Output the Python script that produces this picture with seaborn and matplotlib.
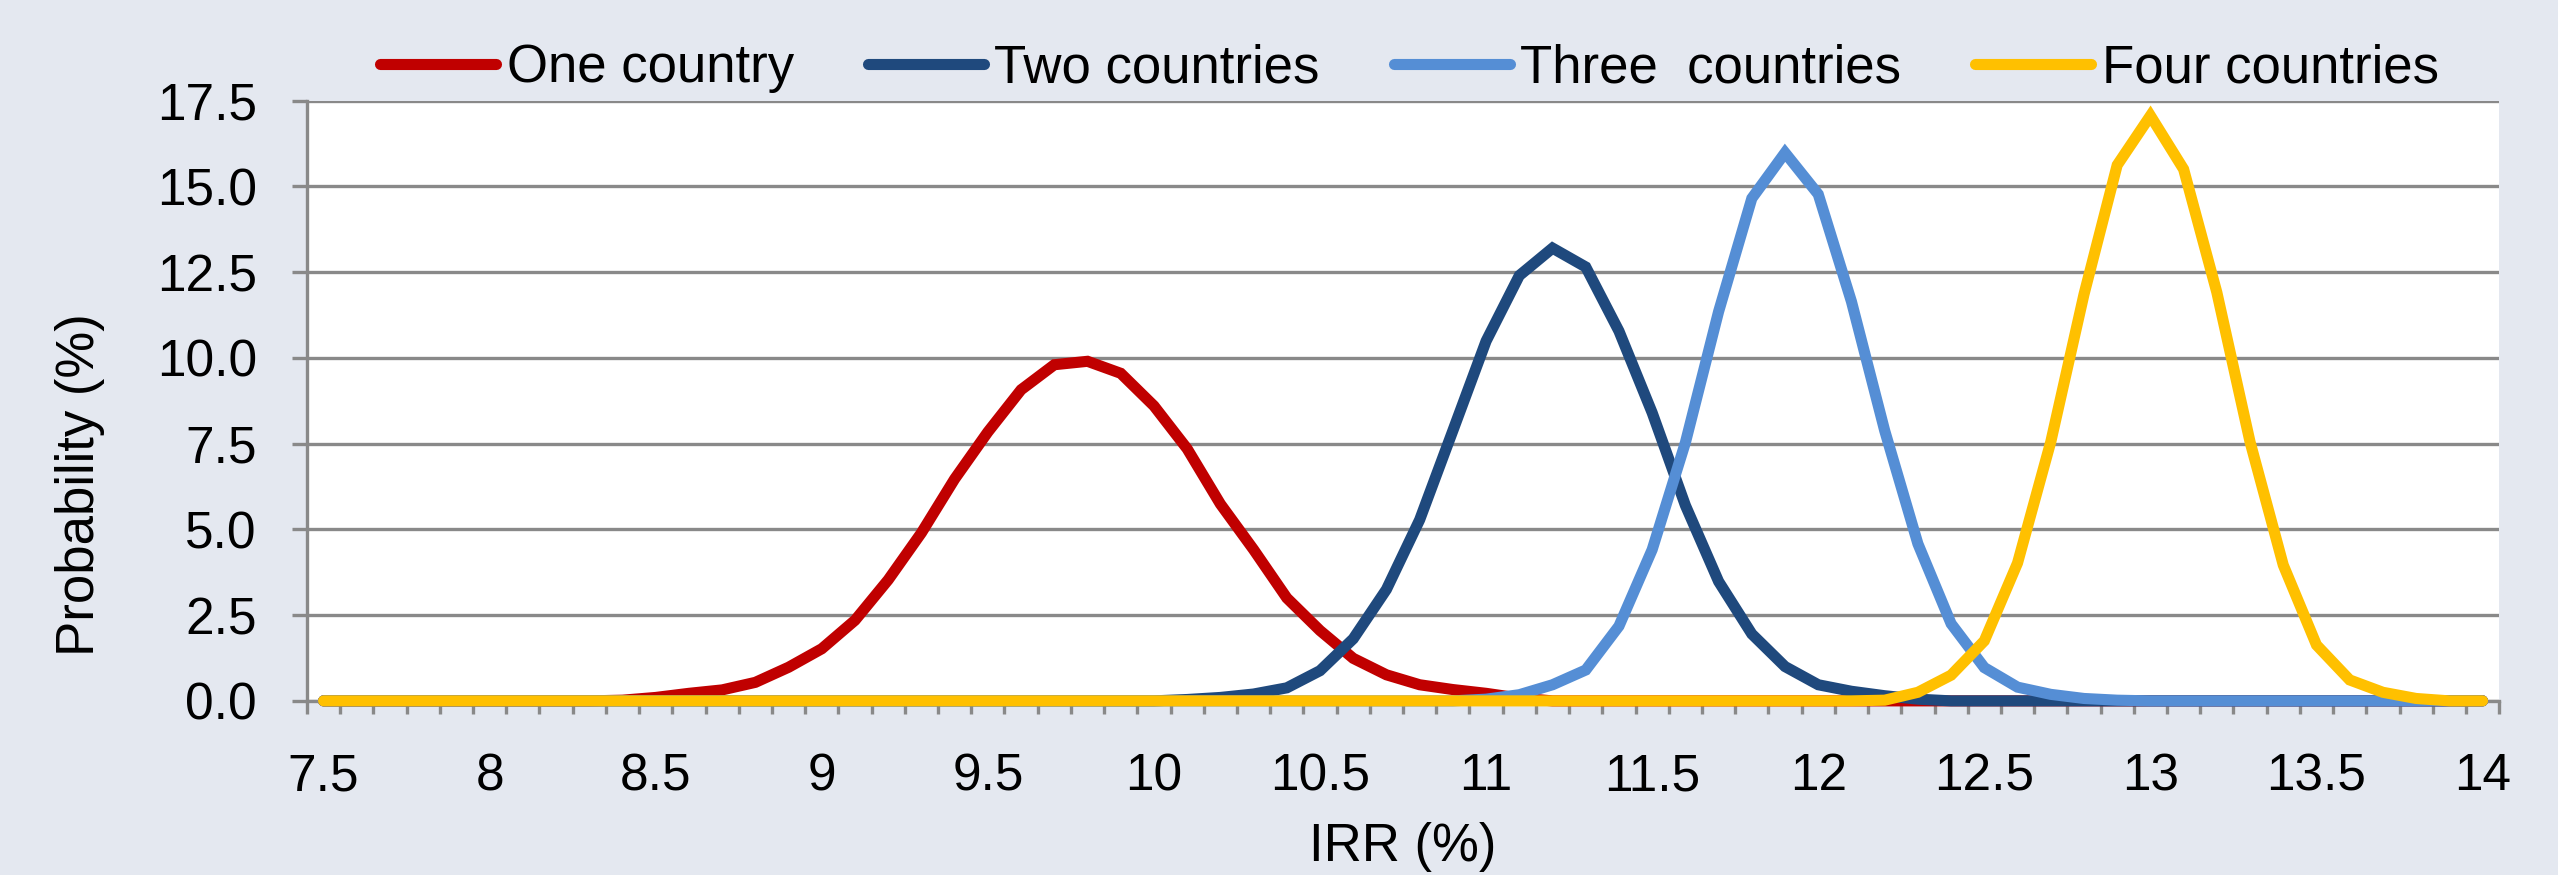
import matplotlib
matplotlib.use("Agg")
import matplotlib.pyplot as plt
import numpy as np
import seaborn as sns

# IRR categories (%), one every 0.1 from 7.5 to 14.0
irr = [7.5, 7.6, 7.7, 7.8, 7.9, 8.0, 8.1, 8.2, 8.3, 8.4,
       8.5, 8.6, 8.7, 8.8, 8.9, 9.0, 9.1, 9.2, 9.3, 9.4,
       9.5, 9.6, 9.7, 9.8, 9.9, 10.0, 10.1, 10.2, 10.3, 10.4,
       10.5, 10.6, 10.7, 10.8, 10.9, 11.0, 11.1, 11.2, 11.3, 11.4,
       11.5, 11.6, 11.7, 11.8, 11.9, 12.0, 12.1, 12.2, 12.3, 12.4,
       12.5, 12.6, 12.7, 12.8, 12.9, 13.0, 13.1, 13.2, 13.3, 13.4,
       13.5, 13.6, 13.7, 13.8, 13.9, 14.0]

# probability (%) for each category
one_country = [0, 0, 0, 0, 0, 0, 0, 0, 0, 0.02,
               0.10, 0.22, 0.32, 0.54, 0.98, 1.52, 2.35, 3.53, 4.90, 6.47,
               7.84, 9.07, 9.80, 9.90, 9.55, 8.60, 7.35, 5.74, 4.41, 3.00,
               2.05, 1.24, 0.76, 0.47, 0.33, 0.22, 0.08, 0, 0, 0,
               0, 0, 0, 0, 0, 0, 0, 0, 0, 0,
               0, 0, 0, 0, 0, 0, 0, 0, 0, 0,
               0, 0, 0, 0, 0, 0]
two_countries = [0, 0, 0, 0, 0, 0, 0, 0, 0, 0,
                 0, 0, 0, 0, 0, 0, 0, 0, 0, 0,
                 0, 0, 0, 0, 0, 0, 0.04, 0.10, 0.20, 0.38,
                 0.88, 1.81, 3.25, 5.28, 7.88, 10.49, 12.40, 13.20, 12.65, 10.78,
                 8.40, 5.70, 3.48, 1.95, 1.00, 0.47, 0.28, 0.15, 0.05, 0,
                 0, 0, 0, 0, 0, 0, 0, 0, 0, 0,
                 0, 0, 0, 0, 0, 0]
three_countries = [0, 0, 0, 0, 0, 0, 0, 0, 0, 0,
                   0, 0, 0, 0, 0, 0, 0, 0, 0, 0,
                   0, 0, 0, 0, 0, 0, 0, 0, 0, 0,
                   0, 0, 0, 0, 0, 0.05, 0.18, 0.47, 0.90, 2.18,
                   4.41, 7.53, 11.35, 14.65, 15.98, 14.77, 11.64, 7.88, 4.58, 2.25,
                   0.97, 0.40, 0.19, 0.07, 0.02, 0, 0, 0, 0, 0,
                   0, 0, 0, 0, 0, 0]
four_countries = [0, 0, 0, 0, 0, 0, 0, 0, 0, 0,
                  0, 0, 0, 0, 0, 0, 0, 0, 0, 0,
                  0, 0, 0, 0, 0, 0, 0, 0, 0, 0,
                  0, 0, 0, 0, 0, 0, 0, 0, 0, 0,
                  0, 0, 0, 0, 0, 0, 0, 0.02, 0.25, 0.75,
                  1.75, 4.02, 7.55, 11.85, 15.62, 17.06, 15.50, 11.91, 7.55, 3.96,
                  1.63, 0.61, 0.25, 0.07, 0, 0]

series_names = ["One country", "Two countries", "Three  countries", "Four countries"]
series_colors = ["#C00000", "#1F497D", "#558ED5", "#FFC000"]

x_label_values = [7.5, 8.0, 8.5, 9.0, 9.5, 10.0, 10.5, 11.0, 11.5, 12.0, 12.5, 13.0, 13.5, 14.0]
x_label_text = ["7.5", "8", "8.5", "9", "9.5", "10", "10.5", "11", "11.5", "12", "12.5", "13", "13.5", "14"]
y_ticks = [0.0, 2.5, 5.0, 7.5, 10.0, 12.5, 15.0, 17.5]

sns.set_theme(style="white")
plt.rcParams["font.family"] = ["Liberation Sans", "DejaVu Sans"]
plt.rcParams["text.color"] = "black"
plt.rcParams["axes.labelcolor"] = "black"

grey = "#898989"
fig = plt.figure(figsize=(25.58, 8.75), dpi=100)
fig.patch.set_facecolor("#E4E8F0")
ax = fig.add_axes([0.120, 0.199, 0.857, 0.686])
ax.set_facecolor("white")

for vals, name, col in zip([one_country, two_countries, three_countries, four_countries],
                           series_names, series_colors):
    sns.lineplot(x=irr, y=vals, ax=ax, color=col, label=name, linewidth=8,
                 solid_capstyle="round", solid_joinstyle="miter", clip_on=False, zorder=3)

ax.set_xlim(7.45, 14.05)
ax.set_ylim(0, 17.5)

ax.set_yticks(y_ticks)
ax.set_yticklabels([f"{v:.1f}" for v in y_ticks])
ax.set_xticks(x_label_values)
ax.set_xticklabels(x_label_text)
ax.set_xticks(np.arange(7.45, 14.06, 0.1), minor=True)

ax.tick_params(axis="y", which="major", left=True, length=11, width=2.4, color=grey,
               pad=25, labelsize=37, labelcolor="black")
ax.tick_params(axis="x", which="major", bottom=True, length=0, pad=37,
               labelsize=37, labelcolor="black")
ax.tick_params(axis="x", which="minor", bottom=True, length=9.5, width=2.4, color=grey)

ax.yaxis.grid(True, color=grey, linewidth=2.4)
ax.xaxis.grid(False)
ax.set_axisbelow(True)

for side in ["top", "right"]:
    ax.spines[side].set_visible(False)
for side in ["left", "bottom"]:
    ax.spines[side].set_color(grey)
    ax.spines[side].set_linewidth(2.4)

ax.set_xlabel("IRR (%)", fontsize=38, va="baseline")
ax.xaxis.set_label_coords(0.5, -0.266)
ax.set_ylabel("Probability (%)", fontsize=38, va="center")
ax.yaxis.set_label_coords(-0.1035, 0.36)

handles, labels = ax.get_legend_handles_labels()
ax.get_legend().remove()
fig.legend(handles, labels, loc="center", bbox_to_anchor=(0.551, 0.922), ncol=4,
           frameon=False, fontsize=38, handlelength=2.2, handletextpad=0.2,
           columnspacing=1.4, borderaxespad=0, labelcolor="black")

fig.savefig("out.png", dpi=100, facecolor=fig.get_facecolor())
